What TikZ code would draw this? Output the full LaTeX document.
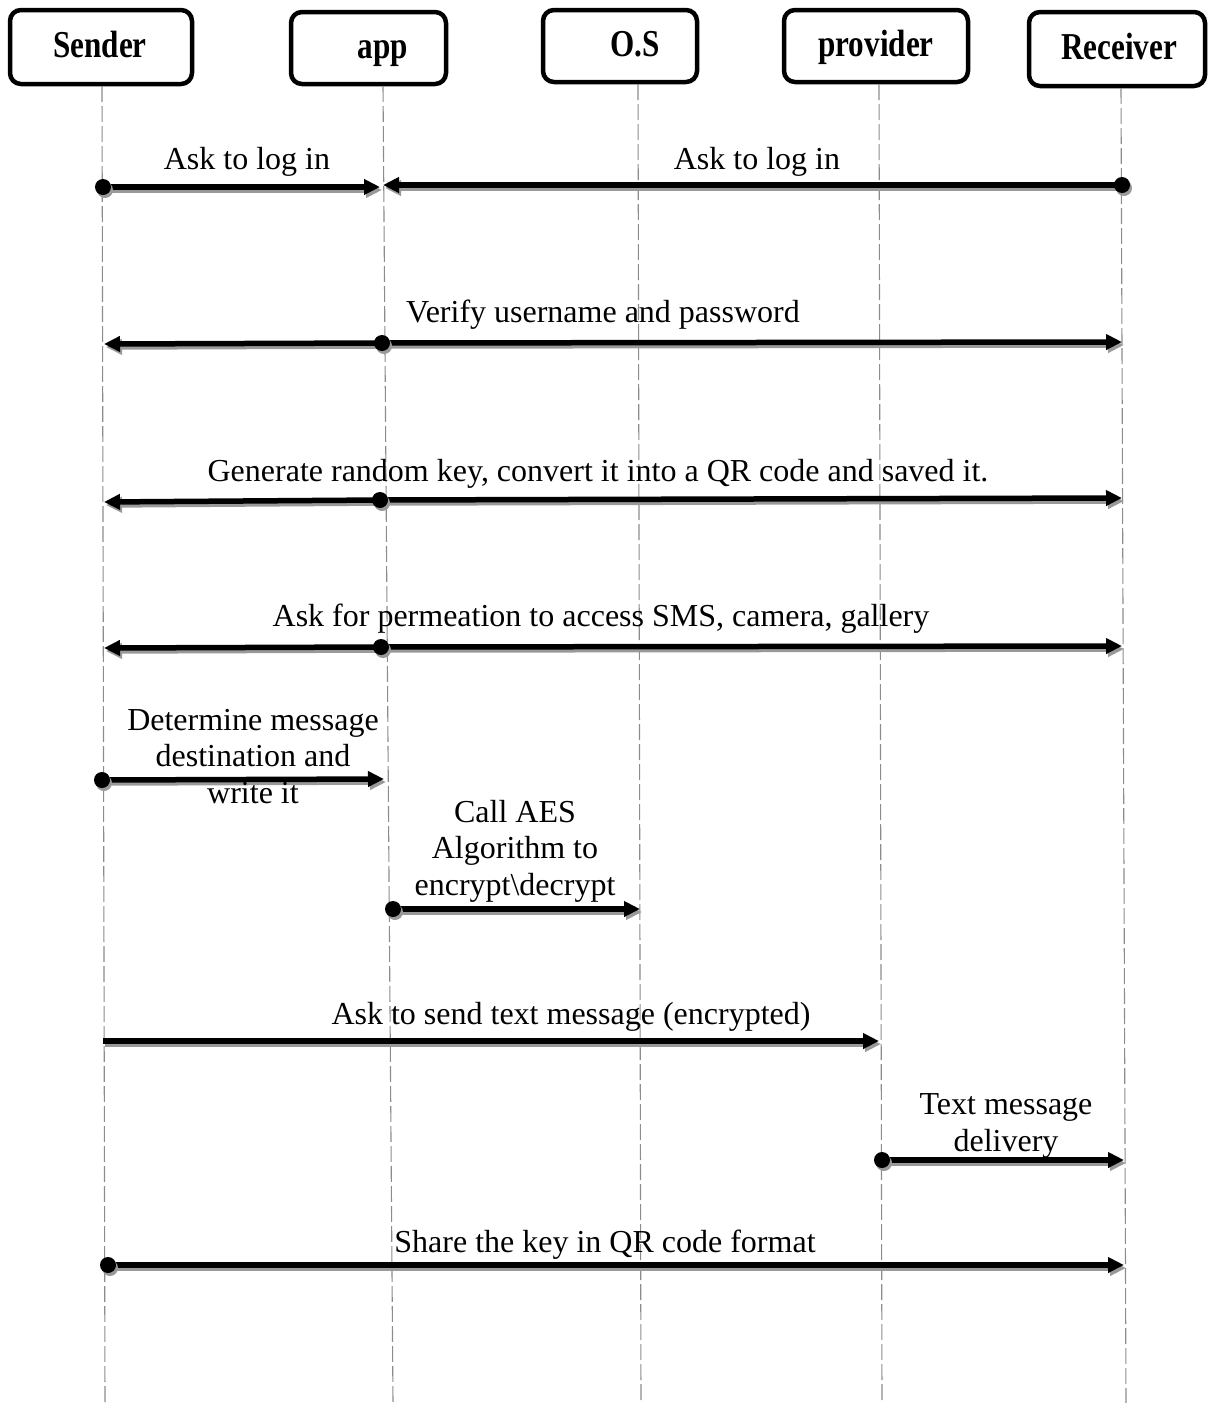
\documentclass[tikz,border=0pt]{standalone}
\usepackage{fontspec}
\setmainfont{Liberation Serif}
\usetikzlibrary{arrows.meta}
\definecolor{shadowgray}{gray}{0.6}
\definecolor{lifegray}{gray}{0.55}
% a message arrow with its grey drop shadow
\newcommand\msgarrow[2]{%
  \draw[msgshadow] (#1) -- (#2);
  \draw[msg] (#1) -- (#2);}
\newcommand\msgdot[2]{%
  \fill[shadowgray] ([shift={(2,3)}]#2) circle (8pt);
  \node[dot] (#1) at (#2) {};}
\begin{document}
\begin{tikzpicture}[x=1pt,y=-1pt,
  headbox/.style={draw=black, line width=4.5pt, rounded corners=11pt, fill=white, inner sep=0},
  headtext/.style={anchor=base, inner sep=0, font=\fontsize{38pt}{40pt}\selectfont\bfseries},
  lifeline/.style={draw=lifegray, line width=1.1pt, dash pattern=on 16pt off 4pt},
  msg/.style={line width=5.5pt, -{Triangle[length=16pt,width=15pt]}},
  msgshadow/.style={msg, draw=shadowgray, fill=shadowgray, transform canvas={shift={(2pt,-3pt)}}},
  dot/.style={circle, fill=black, minimum size=16pt, inner sep=0},
  lbl/.style={anchor=base, inner sep=0, align=center, font=\fontsize{32pt}{36.5pt}\selectfont},
]
\useasboundingbox (0,0) rectangle (1208,1403);

% header boxes
\node[headbox, minimum width=182pt, minimum height=74pt] (hs) at (101,47) {};
\node[headbox, minimum width=155pt, minimum height=72pt] (ha) at (368.5,48) {};
\node[headbox, minimum width=154pt, minimum height=72pt] (ho) at (620,46) {};
\node[headbox, minimum width=184pt, minimum height=72pt] (hp) at (876,46) {};
\node[headbox, minimum width=176pt, minimum height=74pt] (hr) at (1117,49) {};

\node[headtext] (ts) at (100,57) {\scalebox{0.82}[1]{Sender}};
\node[headtext] (ta) at (383,58) {\scalebox{0.82}[1]{app}};
\node[headtext] (to) at (635,56) {\scalebox{0.82}[1]{O.S}};
\node[headtext] (tp) at (876,56) {\scalebox{0.82}[1]{provider}};
\node[headtext] (tr) at (1119,59) {\scalebox{0.82}[1]{Receiver}};

% lifelines
\coordinate (ls0) at (102,86);  \coordinate (ls1) at (105,1403);
\coordinate (la0) at (383,86);  \coordinate (la1) at (393,1403);
\coordinate (lo0) at (638,84);  \coordinate (lo1) at (641,1403);
\coordinate (lp0) at (879,84);  \coordinate (lp1) at (882,1403);
\coordinate (lr0) at (1121,88); \coordinate (lr1) at (1126,1403);
\draw[lifeline] (ls0) -- (ls1);
\draw[lifeline] (la0) -- (la1);
\draw[lifeline] (lo0) -- (lo1);
\draw[lifeline] (lp0) -- (lp1);
\draw[lifeline] (lr0) -- (lr1);

% 1, 2: log in requests
\coordinate (m1a) at (103,187);  \coordinate (m1b) at (380,187);
\coordinate (m2a) at (1122,185); \coordinate (m2b) at (383,185);
\msgarrow{m1a}{m1b}
\msgarrow{m2a}{m2b}
\msgdot{d1}{m1a}
\msgdot{d2}{m2a}
\node[lbl] (l1) at (247,169) {Ask to log in};
\node[lbl] (l2) at (757,169) {Ask to log in};

% 3: verification
\coordinate (m3) at (382,343); \coordinate (m3s) at (104,344); \coordinate (m3r) at (1122,342);
\msgarrow{m3}{m3s}
\msgarrow{m3}{m3r}
\msgdot{d3}{m3}
\node[lbl] (l3) at (603,322) {Verify username and password};

% 4: key generation
\coordinate (m4) at (380,500); \coordinate (m4s) at (104,502); \coordinate (m4r) at (1122,498);
\msgarrow{m4}{m4s}
\msgarrow{m4}{m4r}
\msgdot{d4}{m4}
\node[lbl] (l4) at (598,481) {Generate random key, convert it into a QR code and saved it.};

% 5: permissions
\coordinate (m5) at (381,647); \coordinate (m5s) at (104,648); \coordinate (m5r) at (1122,646);
\msgarrow{m5}{m5s}
\msgarrow{m5}{m5r}
\msgdot{d5}{m5}
\node[lbl] (l5) at (601,626) {Ask for permeation to access SMS, camera, gallery};

% 6: write message
\coordinate (m6a) at (102,780); \coordinate (m6b) at (384,779);
\msgarrow{m6a}{m6b}
\msgdot{d6}{m6a}
\node[lbl] (l6) at (253,803) {Determine message\\destination and\\write it};

% 7: AES
\coordinate (m7a) at (393,909); \coordinate (m7b) at (640,909);
\msgarrow{m7a}{m7b}
\msgdot{d7}{m7a}
\node[lbl] (l7) at (515,895) {Call AES\\Algorithm to\\encrypt\textbackslash decrypt};

% 8: send encrypted text
\coordinate (m8a) at (103,1041); \coordinate (m8b) at (879,1041);
\msgarrow{m8a}{m8b}
\node[lbl] (l8) at (571,1024) {Ask to send text message (encrypted)};

% 9: delivery
\coordinate (m9a) at (882,1160); \coordinate (m9b) at (1124,1160);
\msgarrow{m9a}{m9b}
\msgdot{d9}{m9a}
\node[lbl] (l9) at (1006,1151) {Text message\\delivery};

% 10: share key
\coordinate (m10a) at (108,1265); \coordinate (m10b) at (1124,1265);
\msgarrow{m10a}{m10b}
\msgdot{d10}{m10a}
\node[lbl] (l10) at (605,1252) {Share the key in QR code format};
\end{tikzpicture}
\end{document}
